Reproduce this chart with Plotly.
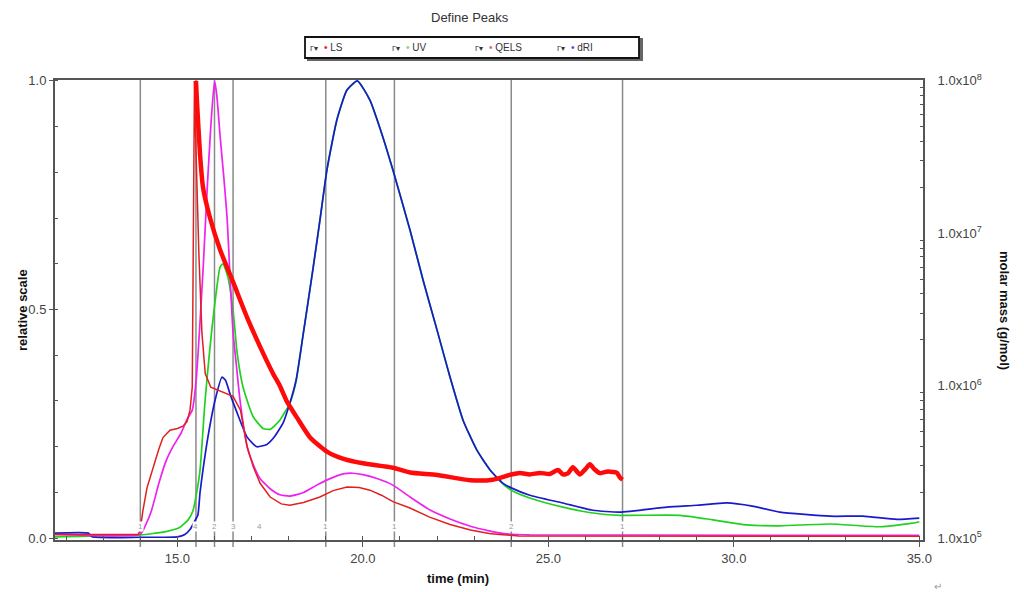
import plotly.graph_objects as go

# ---------------- data ----------------
t_ls = [11.7, 13.95, 14.0, 14.07, 14.18, 14.34, 14.5, 14.61, 14.8, 15.0, 15.15, 15.26, 15.34, 15.4,
        15.43, 15.46, 15.5, 15.58, 15.66, 15.75, 15.9, 16.2, 16.5, 16.7, 16.88, 17.05, 17.23, 17.5,
        17.8, 18.03, 18.4, 18.84, 19.2, 19.57, 19.9, 20.19, 20.5, 20.81, 21.27, 21.8, 22.35, 22.9,
        23.4, 23.69, 24.2, 35.0]
ls = [0.008, 0.008, 0.02, 0.06, 0.11, 0.155, 0.195, 0.22, 0.236, 0.24, 0.245, 0.255, 0.28, 0.33,
      0.7, 1.0, 0.85, 0.62, 0.45, 0.36, 0.33, 0.32, 0.31, 0.28, 0.2, 0.155, 0.12, 0.09,
      0.075, 0.072, 0.078, 0.09, 0.104, 0.112, 0.111, 0.105, 0.094, 0.08, 0.066, 0.046, 0.03, 0.018,
      0.01, 0.008, 0.005, 0.004]

t_qels = [11.7, 14.0, 14.15, 14.3, 14.5, 14.7, 14.88, 15.1, 15.26, 15.4, 15.5, 15.6, 15.7, 15.8,
          15.9, 16.0, 16.06, 16.15, 16.25, 16.34, 16.42, 16.5, 16.6, 16.69, 16.88, 17.05, 17.23,
          17.5, 17.76, 18.03, 18.4, 18.8, 19.2, 19.5, 19.73, 20.0, 20.4, 20.81, 21.27, 21.8, 22.35,
          22.9, 23.4, 23.8, 24.5, 35.0]
qels = [0.008, 0.009, 0.03, 0.06, 0.12, 0.17, 0.2, 0.23, 0.26, 0.28, 0.34, 0.46, 0.6, 0.76,
        0.9, 1.0, 0.97, 0.88, 0.79, 0.70, 0.57, 0.45, 0.37, 0.30, 0.20, 0.16, 0.13,
        0.108, 0.095, 0.092, 0.1, 0.118, 0.133, 0.141, 0.142, 0.139, 0.13, 0.116, 0.09, 0.062, 0.042,
        0.026, 0.016, 0.01, 0.007, 0.006]

t_uv = [11.7, 14.0, 14.4, 14.72, 15.07, 15.29, 15.42, 15.52, 15.61, 15.74, 15.82, 15.92, 16.01,
        16.15, 16.23, 16.36, 16.5, 16.61, 16.77, 17.04, 17.31, 17.5, 17.76, 18.03, 18.2, 18.38,
        18.65, 18.85, 19.03, 19.3, 19.57, 19.85, 20.19, 20.54, 20.81, 21.27, 21.62, 22.0, 22.35,
        22.7, 23.07, 23.43, 23.78, 24.0, 24.5, 25.39, 26.2, 26.93, 28.55, 29.44, 30.35, 31.24,
        32.59, 33.94, 34.83, 35.0]
uv = [0.003, 0.007, 0.011, 0.015, 0.024, 0.04, 0.06, 0.1, 0.149, 0.295, 0.368, 0.45, 0.514,
      0.593, 0.60, 0.571, 0.499, 0.405, 0.33, 0.266, 0.24, 0.238, 0.258, 0.295, 0.343, 0.44,
      0.586, 0.70, 0.805, 0.915, 0.98, 1.0, 0.958, 0.877, 0.805, 0.674, 0.565, 0.455, 0.352,
      0.258, 0.193, 0.149, 0.118, 0.105, 0.088, 0.068, 0.055, 0.05, 0.05, 0.04, 0.029, 0.027,
      0.031, 0.025, 0.033, 0.036]

t_dri = [11.7, 12.6, 12.7, 14.0, 15.0, 15.2, 15.35, 15.45, 15.55, 15.61, 15.69, 15.82, 16.01,
         16.2, 16.3, 16.42, 16.61, 16.88, 17.14, 17.41, 17.6, 17.85, 18.03, 18.2, 18.38, 18.65,
         18.85, 19.03, 19.3, 19.57, 19.85, 20.19, 20.54, 20.81, 21.27, 21.62, 22.0, 22.35, 22.7,
         23.07, 23.43, 23.78, 24.0, 24.5, 25.39, 26.2, 26.93, 28.2, 29.0, 29.81, 30.5, 31.24,
         32.59, 33.48, 34.4, 35.0]
dri = [0.011, 0.011, 0.003, 0.002, 0.003, 0.008, 0.02, 0.035, 0.05, 0.1, 0.15, 0.22, 0.30,
       0.352, 0.345, 0.315, 0.274, 0.221, 0.2, 0.205, 0.22, 0.252, 0.295, 0.346, 0.44, 0.586,
       0.70, 0.805, 0.915, 0.98, 1.0, 0.958, 0.877, 0.805, 0.674, 0.565, 0.455, 0.352, 0.258,
       0.193, 0.149, 0.12, 0.11, 0.094, 0.077, 0.061, 0.057, 0.068, 0.072, 0.077, 0.07, 0.057,
       0.048, 0.048, 0.041, 0.044]

# molar mass (g/mol), right log axis
t_mm = [15.5, 15.53, 15.61, 15.69, 15.88, 16.15, 16.5, 16.88, 17.23, 17.58, 17.76, 17.95, 18.22,
        18.57, 19.03, 19.5, 20.0, 20.81, 21.27, 22.0, 22.89, 23.5, 23.96, 24.23, 24.5, 24.77,
        25.04, 25.26, 25.39, 25.53, 25.66, 25.85, 26.0, 26.12, 26.25, 26.39, 26.6, 26.74, 26.85,
        26.93, 27.0]
molar_mass = [1.0e8, 7.1e7, 3.3e7, 2.0e7, 1.26e7, 7.8e6, 4.8e6, 2.8e6, 1.8e6, 1.2e6, 1.0e6,
              7.9e5, 6.2e5, 4.6e5, 3.7e5, 3.3e5, 3.1e5, 2.9e5, 2.7e5, 2.6e5, 2.4e5, 2.42e5,
              2.6e5, 2.68e5, 2.62e5, 2.68e5, 2.64e5, 2.8e5, 2.62e5, 2.66e5, 2.92e5, 2.62e5,
              2.84e5, 3.05e5, 2.82e5, 2.67e5, 2.74e5, 2.72e5, 2.68e5, 2.5e5, 2.42e5]

# peak boundaries and their small labels
boundaries = [14.0, 15.5, 16.0, 16.5, 19.0, 20.85, 24.0, 27.0]
marker_pos = [14.0, 15.5, 16.0, 16.5, 17.2, 19.0, 20.85, 24.0, 27.0]
marker_txt = ["1", "4", "2", "3", "4", "1", "1", "2", "1"]

x_ticks = [15, 20, 25, 30, 35]
x_ticktext = ["15.0", "20.0", "25.0", "30.0", "35.0"]
y_ticks = [0, 0.5, 1.0]
y_ticktext = ["0.0", "0.5", "1.0"]
y2_ticks = [1e5, 1e6, 1e7, 1e8]
y2_ticktext = ["1.0x10<sup>5</sup>", "1.0x10<sup>6</sup>", "1.0x10<sup>7</sup>", "1.0x10<sup>8</sup>"]
y2_minor = [m * 10 ** e for e in (5, 6, 7) for m in range(2, 10)]

legend_names = ["LS", "UV", "QELS", "dRI"]
legend_colors = ["#e8202a", "#7fd67f", "#e05a9a", "#5050d8"]

FONT = "Arial, Liberation Sans, sans-serif"
AX = "#555555"

# plot-area geometry (pixels) used to place free texts
L, R, T, B = 55, 101, 80, 52
W, H = 1024 - L - R, 592 - T - B


def px(x):
    return (x - L) / W


def py(y):
    return (592 - B - y) / H


SMOOTH = dict(shape="spline", smoothing=0.5)

fig = go.Figure()
fig.add_trace(go.Scatter(x=t_uv, y=uv, mode="lines", name="UV",
                         line=dict(color="#1fd21f", width=1.7, **SMOOTH)))
fig.add_trace(go.Scatter(x=t_dri, y=dri, mode="lines", name="dRI",
                         line=dict(color="#1a1acc", width=1.7, **SMOOTH)))
fig.add_trace(go.Scatter(x=t_qels, y=qels, mode="lines", name="QELS",
                         line=dict(color="#ee22ee", width=1.7, **SMOOTH)))
fig.add_trace(go.Scatter(x=t_ls, y=ls, mode="lines", name="LS",
                         line=dict(color="#e02020", width=1.5)))
fig.add_trace(go.Scatter(x=t_mm, y=molar_mass, mode="lines", name="molar mass", yaxis="y2",
                         line=dict(color="#ff0a0a", width=4.5, shape="spline", smoothing=0.6)))

shapes = []
for b in boundaries:
    shapes.append(dict(type="line", xref="x", yref="y domain", x0=b, x1=b, y0=-0.015, y1=1,
                       line=dict(color="#8a8a8a", width=1.5), layer="below"))
# legend box with shadow
shapes.append(dict(type="rect", xref="paper", yref="paper", x0=px(308), x1=px(642),
                   y0=py(60), y1=py(39), line=dict(color="#666", width=2), fillcolor="#666"))
shapes.append(dict(type="rect", xref="paper", yref="paper", x0=px(305), x1=px(639),
                   y0=py(58), y1=py(37), line=dict(color="#111", width=1.8), fillcolor="white"))

annotations = []
for p, s in zip(marker_pos, marker_txt):
    annotations.append(dict(x=p, y=0.025, xref="x", yref="y", text=s, showarrow=False,
                            xanchor="center", yanchor="middle",
                            font=dict(size=8, color="#999", family=FONT), bgcolor="white",
                            borderpad=0))

leg_x = [308, 390, 473, 555]
for name, col, lx in zip(legend_names, legend_colors, leg_x):
    annotations.append(dict(x=px(lx), y=py(47.5), xref="paper", yref="paper",
                            xanchor="left", yanchor="middle", showarrow=False,
                            text="<span style='font-size:8px'>Γ▾</span>  <span style='color:%s'>•</span> %s" % (col, name),
                            font=dict(size=10, color="#333", family=FONT)))


def free_text(x, y, text, size, color, angle=0):
    return dict(x=px(x), y=py(y), xref="paper", yref="paper", text=text, textangle=angle,
                xanchor="center", yanchor="middle", showarrow=False,
                font=dict(size=size, color=color, family=FONT))


annotations += [
    free_text(470, 17, "Define Peaks", 13, "#333"),
    free_text(22, 310, "<b>relative scale</b>", 13, "#111", -90),
    free_text(458, 578, "<b>time (min)</b>", 13, "#111"),
    free_text(1005, 310, "<b>molar mass (g/mol)</b>", 13, "#111", 90),
    free_text(938, 586, "↵", 10, "#999"),
]

TICKFONT = dict(size=13, color="#444", family=FONT)

fig.update_layout(
    width=1024, height=592,
    margin=dict(l=L, r=R, t=T, b=B),
    paper_bgcolor="white", plot_bgcolor="white",
    showlegend=False,
    font=dict(family=FONT, size=12, color="#444"),
    xaxis=dict(range=[11.7, 35.1], tickvals=x_ticks, ticktext=x_ticktext,
               showline=True, linecolor=AX, linewidth=2, mirror=True,
               ticks="outside", ticklen=5, tickcolor=AX, showgrid=False, zeroline=False,
               tickfont=TICKFONT,
               minor=dict(dtick=1, tick0=0, ticks="inside", ticklen=4, tickcolor=AX, showgrid=False)),
    yaxis=dict(range=[-0.004, 1.002], tickvals=y_ticks, ticktext=y_ticktext,
               showline=True, linecolor=AX, linewidth=2,
               ticks="outside", ticklen=4, tickcolor=AX, showgrid=False, zeroline=False,
               tickfont=TICKFONT,
               minor=dict(dtick=0.1, tick0=0, ticks="inside", ticklen=3, tickcolor=AX, showgrid=False)),
    yaxis2=dict(type="log", overlaying="y", side="right", range=[4.988, 8.006],
                tickvals=y2_ticks, ticktext=y2_ticktext,
                showline=True, linecolor=AX, linewidth=2,
                ticks="", showgrid=False, zeroline=False, ticklabelstandoff=10,
                tickfont=TICKFONT,
                minor=dict(tickvals=y2_minor, ticks="inside", ticklen=3, tickcolor=AX, showgrid=False)),
    shapes=shapes,
    annotations=annotations,
)

fig.write_html("out.html")
